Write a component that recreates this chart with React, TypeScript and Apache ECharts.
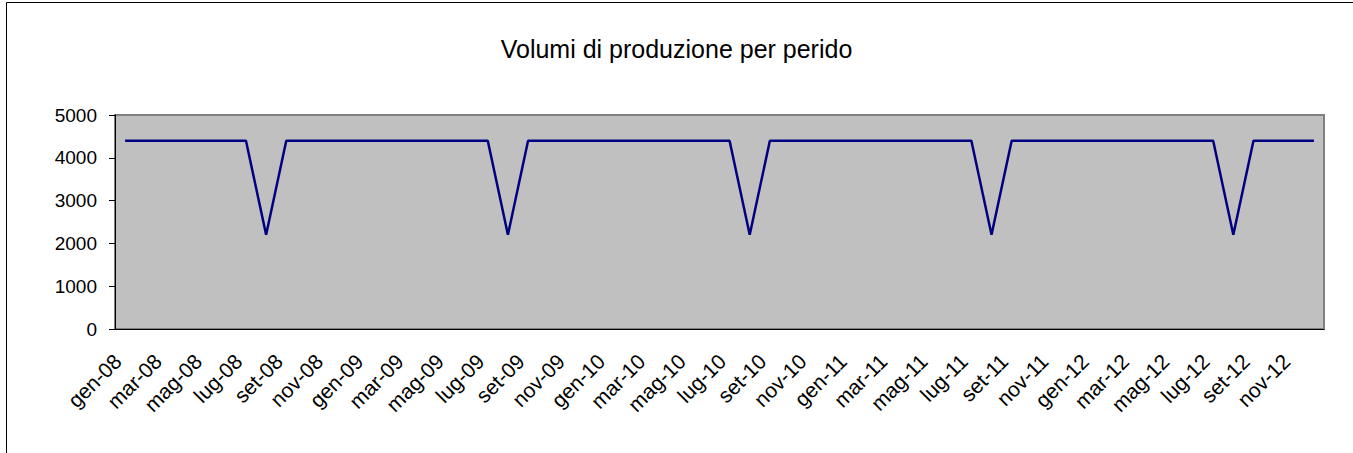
import React, { useEffect, useRef } from "react";
import * as echarts from "echarts";

const months = ["gen", "feb", "mar", "apr", "mag", "giu", "lug", "ago", "set", "ott", "nov", "dic"];
const years = ["08", "09", "10", "11", "12"];
const categories: string[] = years.flatMap((y) => months.map((m) => `${m}-${y}`));

const volumes2008 = [4400, 4400, 4400, 4400, 4400, 4400, 4400, 2200, 4400, 4400, 4400, 4400];
const volumes2009 = [4400, 4400, 4400, 4400, 4400, 4400, 4400, 2200, 4400, 4400, 4400, 4400];
const volumes2010 = [4400, 4400, 4400, 4400, 4400, 4400, 4400, 2200, 4400, 4400, 4400, 4400];
const volumes2011 = [4400, 4400, 4400, 4400, 4400, 4400, 4400, 2200, 4400, 4400, 4400, 4400];
const volumes2012 = [4400, 4400, 4400, 4400, 4400, 4400, 4400, 2200, 4400, 4400, 4400, 4400];
const volumes = [...volumes2008, ...volumes2009, ...volumes2010, ...volumes2011, ...volumes2012];

const title = "Volumi di produzione per perido";

export default function App() {
  const ref = useRef<HTMLDivElement>(null);
  useEffect(() => {
    if (!ref.current) return;
    const chart = echarts.init(ref.current, null, { renderer: "svg" });
    const font = "'Liberation Sans', Arial, sans-serif";
    chart.setOption({
      animation: false,
      backgroundColor: "#ffffff",
      title: {
        text: title,
        left: "center",
        top: 31,
        textStyle: { fontFamily: font, fontSize: 25, fontWeight: "normal", color: "#000" },
      },
      graphic: [
        {
          type: "rect",
          shape: { x: 6.5, y: 2.5, width: 1400, height: 500 },
          style: { fill: "none", stroke: "#000", lineWidth: 1 },
          silent: true,
        },
      ],
      grid: {
        left: 115,
        right: 1353 - 1324,
        top: 115,
        bottom: 453 - 329,
        show: true,
        backgroundColor: "#c0c0c0",
        borderColor: "#808080",
        borderWidth: 2,
      },
      xAxis: {
        type: "category",
        data: categories,
        boundaryGap: true,
        axisLine: { lineStyle: { color: "#000", width: 1 } },
        axisTick: { interval: 1, length: 6, lineStyle: { color: "#000" } },
        axisLabel: {
          interval: 1,
          rotate: 45,
          margin: 36,
          verticalAlign: "bottom",
          fontFamily: font,
          fontSize: 21,
          color: "#000",
        },
        splitLine: { show: false },
      },
      yAxis: {
        type: "value",
        min: 0,
        max: 5000,
        interval: 1000,
        axisLine: { show: true, lineStyle: { color: "#000", width: 1 } },
        axisTick: { show: true, length: 6, lineStyle: { color: "#000" } },
        axisLabel: {
          fontFamily: font,
          fontSize: 19,
          color: "#000",
          margin: 18,
          formatter: (v: number) => String(v),
        },
        splitLine: { show: false },
      },
      series: [
        {
          type: "line",
          data: volumes,
          symbol: "none",
          lineStyle: { color: "#000080", width: 2.5 },
        },
      ],
    });
    return () => chart.dispose();
  }, []);
  return (
    <div
      ref={ref}
      style={{ position: "absolute", left: 0, top: 0, width: 1353, height: 453 }}
    />
  );
}
